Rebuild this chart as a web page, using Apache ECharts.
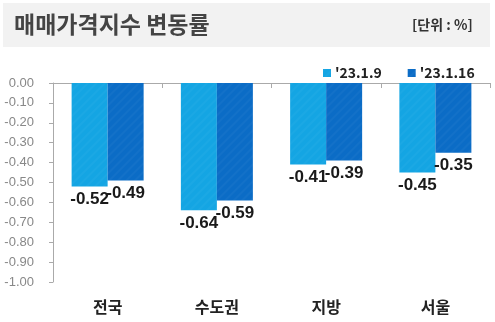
<!DOCTYPE html>
<html><head><meta charset="utf-8">
<script src="https://cdn.jsdelivr.net/npm/echarts@6/dist/echarts.min.js"></script>
<style>html,body{margin:0;padding:0;background:#fff}#c{width:495px;height:322px}</style>
</head><body><div id="c"></div>
<script>
var categories = ['전국', '수도권', '지방', '서울'];
var seriesNames = ["'23.1.9", "'23.1.16"];
var week1 = [-0.52, -0.64, -0.41, -0.45];
var week2 = [-0.49, -0.59, -0.39, -0.35];
var titleText = '매매가격지수 변동률';
var unitText = '[단위 : %]';

var chart = echarts.init(document.getElementById('c'));
var valueFont = "'Liberation Sans Narrow','Liberation Sans',Arial,sans-serif";
function barSeries(name, data, color) {
  return {
    name: name, type: 'bar', data: data, xAxisIndex: 0,
    barWidth: 36, barGap: '0%',
    itemStyle: {
      color: color,
      decal: { symbol: 'rect', dashArrayX: [1, 0], dashArrayY: [2, 4], rotation: -Math.PI / 4, color: 'rgba(255,255,255,0.03)' }
    },
    label: {
      show: true, position: 'bottom', distance: 4,
      fontFamily: valueFont, fontSize: 17, fontWeight: 'bold', color: '#1a1a1a',
      formatter: function (p) { return p.value.toFixed(2); }
    }
  };
}
chart.setOption({
  animation: false,
  graphic: [
    { type: 'rect', left: 3, top: 3, shape: { width: 487, height: 44 }, style: { fill: '#f2f2f2' }, z: -10 },
    { type: 'text', left: 14, top: 13, style: { text: titleText, fontSize: 23, fontWeight: 'bold', fill: '#444', fontFamily: "'Noto Sans CJK KR',sans-serif" } },
    { type: 'text', left: 412, top: 18, style: { text: unitText, fontSize: 14, fontWeight: 'bold', fill: '#333', fontFamily: "'Noto Sans CJK KR',sans-serif" } }
  ],
  legend: {
    data: seriesNames, left: 318, top: 61, itemWidth: 8, itemHeight: 8, itemGap: 26,
    icon: 'rect',
    textStyle: { fontSize: 14, fontWeight: 'bold', color: '#222', fontFamily: "'Noto Sans CJK KR',sans-serif", padding: [0, 0, 0, -1] }
  },
  grid: { left: 53, right: 5, top: 83, bottom: 40 },
  xAxis: [
    { type: 'category', data: categories, position: 'top',
      axisLine: { onZero: false, lineStyle: { color: '#aaa' } },
      axisTick: { show: true, inside: true, length: 5, lineStyle: { color: '#aaa' } },
      axisLabel: { show: false } },
    { type: 'category', data: categories, position: 'bottom',
      axisLine: { show: false }, axisTick: { show: false },
      axisLabel: { margin: 17, fontSize: 16, fontWeight: 'bold', color: '#222', fontFamily: "'Noto Sans CJK KR',sans-serif" } }
  ],
  yAxis: {
    type: 'value', min: -1, max: 0, interval: 0.1,
    axisLine: { show: true, lineStyle: { color: '#aaa' } },
    axisTick: { show: true, length: 4, lineStyle: { color: '#aaa' } },
    splitLine: { show: false },
    axisLabel: { margin: 19, fontSize: 13, color: '#888', fontFamily: "'Liberation Sans',Arial,sans-serif",
      formatter: function (v) { return v.toFixed(2); } }
  },
  series: [
    barSeries(seriesNames[0], week1, '#14a5e3'),
    barSeries(seriesNames[1], week2, '#0b6cc6')
  ]
});
</script></body></html>
